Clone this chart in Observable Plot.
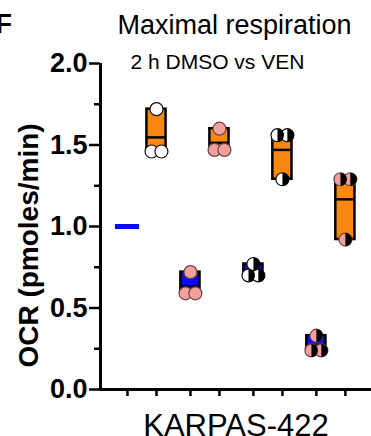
<!DOCTYPE html>
<html>
<head>
<meta charset="utf-8">
<script src="https://cdn.jsdelivr.net/npm/d3@7"></script>
<script src="https://cdn.jsdelivr.net/npm/@observablehq/plot@0.6"></script>
<style>
  html, body { margin: 0; padding: 0; background: white; }
  #chart { width: 371px; height: 436px; overflow: hidden; }
</style>
</head>
<body>
<div id="chart"></div>
<script>
// ---- data ----
const panelLetter = "F";
const title = "Maximal respiration";
const subtitle = "2 h DMSO vs VEN";
const yLabel = "OCR (pmoles/min)";
const xLabel = "KARPAS-422";
const treatments = ["DMSO", "VEN"];
const experiments = [1, 2, 3, 4];
// replicate values per experiment (normalised OCR)
const dmsoValues = [
  [1.0, 1.0, 1.0],
  [0.72, 0.59, 0.59],
  [0.77, 0.70, 0.70],
  [0.33, 0.24, 0.24]
];
const venValues = [
  [1.72, 1.46, 1.46],
  [1.60, 1.47, 1.47],
  [1.56, 1.56, 1.29],
  [1.29, 1.29, 0.92]
];
const yTicks = [0, 0.5, 1.0, 1.5, 2.0];
const yMinorTicks = [0.25, 0.75, 1.25, 1.75];

// ---- styles ----
const FONT = "'Liberation Sans', Arial, Helvetica, sans-serif";
const BLUE = "#0a0af5";
const ORANGE = "#f7870f";
const PINK = "#f3a09d";
const dotLeftFill = ["white", PINK, "white", PINK];
const dotStroke = ["#111", "#6a4545", "#111", "#6a4545"];
const halfBlack = [false, false, true, true];
const groupGap = 0.17;   // extra space between experiment pairs (x units)
const barHalf = 0.33;    // half bar width in x units
const jitterStep = 0.34; // horizontal separation of tied points in x units

// ---- build tables ----
const groups = [];
const points = [];
experiments.forEach((e, ei) => {
  [dmsoValues[ei], venValues[ei]].forEach((vals, ti) => {
    const k = ei * 2 + ti;
    const i = k + ei * groupGap;
    const g = {
      i, e: ei, treatment: treatments[ti],
      min: d3.min(vals), max: d3.max(vals), mean: d3.mean(vals)
    };
    groups.push(g);
    if (g.max > g.min) {
      // spread tied values sideways
      const sorted = vals.slice().sort((a, b) => a - b);
      const clusters = [];
      sorted.forEach(v => {
        const last = clusters[clusters.length - 1];
        if (last && Math.abs(v - last[last.length - 1]) < 0.04) last.push(v);
        else clusters.push([v]);
      });
      clusters.forEach(c => c.forEach((v, j) => {
        points.push({i, e: ei, v, off: (j - (c.length - 1) / 2) * jitterStep});
      }));
    }
  });
});
const varGroups = groups.filter(g => g.max > g.min);
const flatGroups = groups.filter(g => g.max === g.min);

const rightHalf = {
  draw(context, size) {
    const r = Math.sqrt(size / Math.PI);
    context.moveTo(0, -r);
    context.arc(0, 0, r, -Math.PI / 2, Math.PI / 2);
    context.closePath();
  }
};

const xMin = -0.93, xMax = 8.41;

const chart = Plot.plot({
  width: 371,
  height: 436,
  marginLeft: 100,
  marginRight: 0,
  marginTop: 63,
  marginBottom: 47,
  style: {fontFamily: FONT, background: "white", color: "black", overflow: "hidden"},
  x: {type: "linear", domain: [xMin, xMax], axis: null},
  y: {domain: [0, 2], axis: null},
  color: {type: "identity"},
  marks: [
    // axes
    Plot.axisY(yMinorTicks, {tickSize: 6, tickFormat: () => "", strokeWidth: 2.5, label: null}),
    Plot.axisY(yTicks, {tickSize: 11, tickPadding: 2, tickFormat: d3.format(".1f"),
      fontSize: 27, fontWeight: "bold", strokeWidth: 2.5, label: null}),
    Plot.axisX(groups.map(g => g.i), {tickSize: 7, tickFormat: () => "", strokeWidth: 2.5, label: null}),
    Plot.ruleY([0], {strokeWidth: 3}),
    Plot.ruleX([xMin], {strokeWidth: 3}),
    // floating bars (min to max) with mean line
    Plot.rect(varGroups, {
      x1: d => d.i - barHalf, x2: d => d.i + barHalf, y1: "min", y2: "max",
      fill: d => d.treatment === "DMSO" ? BLUE : ORANGE, stroke: "black", strokeWidth: 2.5
    }),
    Plot.ruleY(varGroups, {
      y: "mean", x1: d => d.i - barHalf, x2: d => d.i + barHalf, stroke: "black", strokeWidth: 2.5
    }),
    Plot.ruleY(flatGroups, {
      y: "mean", x1: d => d.i - barHalf, x2: d => d.i + barHalf,
      stroke: BLUE, strokeWidth: 5, strokeLinecap: "square"
    }),
    // replicate points
    Plot.dot(points, {
      x: d => d.i + d.off, y: "v", r: 6.5,
      fill: d => dotLeftFill[d.e], stroke: d => dotStroke[d.e], strokeWidth: 1.2
    }),
    Plot.dot(points.filter(d => halfBlack[d.e]), {
      x: d => d.i + d.off, y: "v", r: 6.5, symbol: rightHalf, fill: "black"
    }),
    // texts
    Plot.text([panelLetter], {frameAnchor: "top-left", dx: -105, dy: -31, fontSize: 27,
      fontWeight: "bold", textAnchor: "start", lineAnchor: "bottom"}),
    Plot.text([title], {frameAnchor: "top-left", dx: 17, dy: -30, fontSize: 27,
      textAnchor: "start", lineAnchor: "bottom"}),
    Plot.text([subtitle], {frameAnchor: "top-left", dx: 30, dy: 5, fontSize: 21,
      textAnchor: "start", lineAnchor: "bottom"}),
    Plot.text([yLabel], {frameAnchor: "left", dx: -63, dy: 19, rotate: -90, fontSize: 28,
      fontWeight: "bold", textAnchor: "middle", lineAnchor: "bottom"}),
    Plot.text([xLabel], {frameAnchor: "bottom", dy: 46, fontSize: 31, lineAnchor: "bottom"})
  ]
});
document.getElementById("chart").appendChild(chart);
</script>
</body>
</html>
